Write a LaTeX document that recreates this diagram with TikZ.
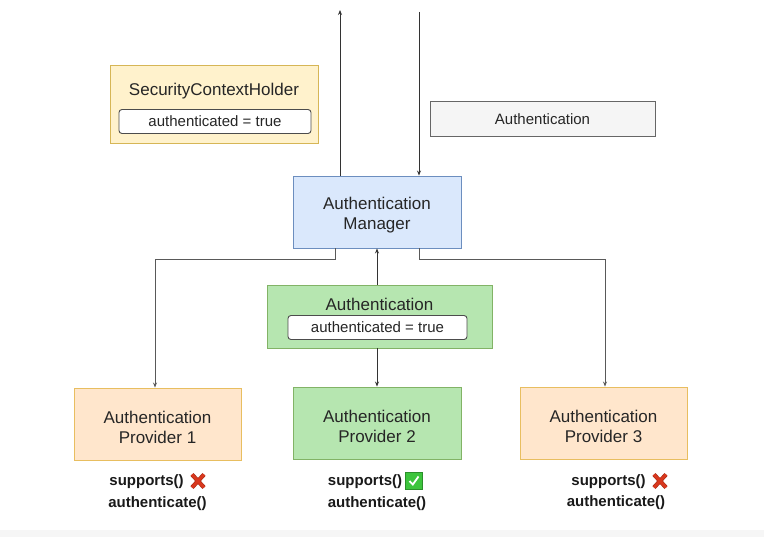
\documentclass[tikz,border=0pt]{standalone}
\usepackage{fontspec}
\setmainfont{Liberation Sans}
\usetikzlibrary{arrows.meta}
\definecolor{yfill}{HTML}{FFF2CC}
\definecolor{ydraw}{HTML}{D6B656}
\definecolor{gfill}{HTML}{F5F5F5}
\definecolor{gdraw}{HTML}{666666}
\definecolor{bfill}{HTML}{DAE8FC}
\definecolor{bdraw}{HTML}{6C8EBF}
\definecolor{grfill}{HTML}{B6E6B0}
\definecolor{grdraw}{HTML}{82B366}
\definecolor{ofill}{HTML}{FFE6CC}
\definecolor{odraw}{HTML}{E8BE60}
\definecolor{xred}{HTML}{D9381E}
\definecolor{xredd}{HTML}{A52A14}
\definecolor{okgreen}{HTML}{3CC43C}
\definecolor{okdark}{HTML}{2A8F2A}
\definecolor{strip}{HTML}{F6F6F6}
\tikzset{
  box/.style={rectangle, inner sep=0pt, line width=0.9pt},
  lbl/.style={inner sep=0pt, align=center, font=\fontsize{17}{20}\selectfont, text=black!85},
  innerbox/.style={rectangle, rounded corners=3pt, draw=black!70, fill=white,
    line width=0.9pt, inner sep=0pt, minimum height=24pt,
    font=\fontsize{15}{18}\selectfont, text=black!85},
  conn/.style={line width=0.9pt, draw=black!80, -{Stealth[length=5pt,width=4pt]}},
  elbow/.style={line width=0.9pt, draw=black!65, -{Stealth[length=5pt,width=4pt]}},
  meth/.style={font=\fontsize{15}{18}\selectfont\bfseries, inner sep=0pt, text=black!90},
}
\newcommand{\redx}[1]{%
  \begin{scope}[shift={#1}]
    \draw[xredd, line width=4.2pt] (-6,-6.5) -- (6,6.5) (-6,6.5) -- (6,-6.5);
    \draw[xred, line width=3pt] (-6,-6.5) -- (6,6.5) (-6,6.5) -- (6,-6.5);
  \end{scope}}
\newcommand{\greencheck}[1]{%
  \begin{scope}[shift={#1}]
    \draw[okdark, fill=okgreen, line width=0.7pt] (-8.5,-8.5) rectangle (8.5,8.5);
    \draw[white, line width=1.8pt] (-4.5,0) -- (-1.2,3.5) -- (4.5,-4.5);
  \end{scope}}
\begin{document}
\begin{tikzpicture}[x=1pt, y=-1pt]
\useasboundingbox (0,0) rectangle (764,537);
\fill[white] (0,0) rectangle (764,537);
\fill[strip] (0,530) rectangle (764,537);

% SecurityContextHolder
\node[box, draw=ydraw, fill=yfill, minimum width=208pt, minimum height=78pt] (sch) at (214,104) {};
\node[lbl] (schtitle) at (214,91) {SecurityContextHolder};
\node[innerbox, minimum width=192pt] (schin) at (215,121.5) {authenticated = true};

% Authentication (top)
\node[box, draw=gdraw, fill=gfill, minimum width=225pt, minimum height=35pt] (auth) at (542.5,118.5) {};
\node[lbl, font=\fontsize{15}{18}\selectfont] (authlbl) at (542.5,119.5) {Authentication};

% Manager
\node[box, draw=bdraw, fill=bfill, minimum width=168pt, minimum height=72pt] (mgr) at (377,212) {};
\node[lbl] (mgrlbl) at (377,215) {Authentication\\Manager};

% Green Authentication
\node[box, draw=grdraw, fill=grfill, minimum width=225pt, minimum height=63pt] (gauth) at (379.5,316.5) {};
\node[lbl] (gtitle) at (379.5,304) {Authentication};
\node[innerbox, minimum width=179pt] (gin) at (377.5,327.5) {authenticated = true};

% Providers
\node[box, draw=odraw, fill=ofill, minimum width=167pt, minimum height=72pt] (p1) at (157.5,424) {};
\node[lbl] (p1lbl) at (157.5,427) {Authentication\\Provider 1};
\node[box, draw=grdraw, fill=grfill, minimum width=168pt, minimum height=72pt] (p2) at (377,423) {};
\node[lbl] (p2lbl) at (377,426) {Authentication\\Provider 2};
\node[box, draw=odraw, fill=ofill, minimum width=167pt, minimum height=72pt] (p3) at (603.5,423) {};
\node[lbl] (p3lbl) at (603.5,426) {Authentication\\Provider 3};

% top connectors
\coordinate (outtop) at (340,10);
\coordinate (intop) at (419,12);
\draw[conn] (mgr.north -| outtop) -- (outtop);
\draw[conn] (intop) -- (intop |- mgr.north);

% elbow connectors
\coordinate (lbend) at (335,259);
\coordinate (rbend) at (419,259);
\draw[elbow] (lbend |- mgr.south) -- (lbend) -- (155,259) -- (155,0 |- p1.north);
\draw[elbow] (rbend |- mgr.south) -- (rbend) -- (605,259) -- (605,0 |- p3.north);

% middle connectors
\draw[conn] (gauth.north -| mgr.south) -- (mgr.south);
\draw[conn] (gauth.south -| p2.north) -- (p2.north);

% methods
\node[meth] (s1) at (146.5,482) {supports()};
\redx{(198,481)}
\node[meth] (a1) at (157.5,504) {authenticate()};

\node[meth] (s2) at (365,482) {supports()};
\greencheck{(414,481)}
\node[meth] (a2) at (377,504) {authenticate()};

\node[meth] (s3) at (608.5,482) {supports()};
\redx{(660,481)}
\node[meth] (a3) at (616,503) {authenticate()};
\end{tikzpicture}
\end{document}
